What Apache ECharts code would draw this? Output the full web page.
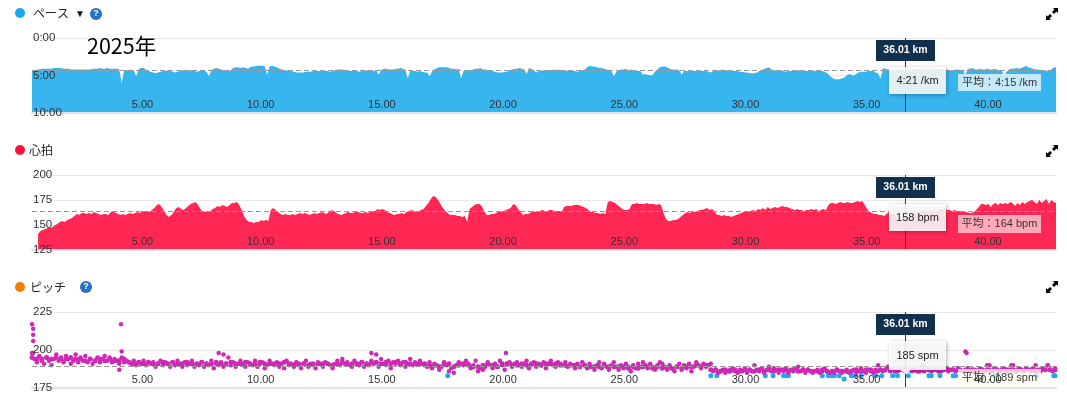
<!DOCTYPE html>
<html>
<head>
<meta charset="utf-8">
<title>ペース 心拍 ピッチ</title>
<style>
  html, body { margin: 0; padding: 0; background: #fff; }
  #chart { width: 1067px; height: 396px; }
</style>
<script src="https://cdn.jsdelivr.net/npm/echarts@6/dist/echarts.min.js"></script>
</head>
<body>
<div id="chart"></div>
<script>
const xTicks = [5, 10, 15, 20, 25, 30, 35, 40]
const maxKm = 42.24
const cursorKm = 36.01

// pace in minutes per km, one value every 0.1 km
const paceStepKm = 0.1
const pace = [
  4.3, 4.3, 4.2, 4.2, 4.1, 4.1, 4.1, 4.1, 4.1, 4.0,
  4.0, 4.0, 4.0, 4.1, 4.1, 4.1, 4.2, 4.2, 4.2, 4.2,
  4.2, 4.2, 4.2, 4.2, 4.2, 4.1, 4.1, 4.1, 4.0, 4.1,
  4.1, 4.0, 4.1, 4.1, 4.1, 4.1, 4.2, 6.0, 4.3, 4.3,
  4.3, 4.2, 4.3, 5.1, 4.2, 4.0, 4.0, 4.2, 4.4, 4.5,
  4.6, 4.7, 4.6, 4.5, 4.4, 4.4, 4.3, 4.4, 4.5, 4.6,
  4.5, 4.4, 4.3, 4.3, 4.4, 4.3, 4.3, 4.4, 4.5, 4.4,
  4.3, 4.4, 4.5, 5.1, 4.3, 4.1, 4.0, 4.1, 4.2, 4.3,
  4.3, 4.4, 4.3, 4.0, 3.9, 3.9, 4.0, 3.9, 4.0, 4.1,
  3.9, 3.8, 3.8, 3.7, 3.7, 3.7, 3.8, 4.9, 3.8, 3.7,
  3.8, 3.9, 4.1, 4.2, 4.3, 4.3, 4.4, 4.4, 4.5, 4.6,
  4.6, 4.6, 4.6, 4.5, 4.5, 4.5, 4.4, 4.4, 4.4, 4.4,
  4.3, 4.4, 4.4, 4.5, 4.4, 4.3, 4.2, 4.2, 4.2, 4.3,
  4.3, 4.4, 4.4, 4.4, 4.4, 4.5, 4.4, 4.4, 4.3, 4.3,
  4.4, 4.4, 4.3, 4.9, 4.3, 4.1, 4.1, 4.2, 4.2, 4.2,
  4.1, 4.1, 4.0, 4.1, 4.2, 5.4, 4.4, 4.4, 4.4, 4.5,
  4.4, 4.5, 4.6, 4.6, 5.1, 4.5, 4.2, 4.0, 3.9, 3.9,
  3.9, 3.9, 4.0, 4.1, 4.1, 4.2, 4.1, 5.4, 4.4, 4.4,
  4.3, 4.3, 4.2, 4.1, 4.1, 4.0, 4.2, 4.2, 4.3, 4.4,
  4.4, 4.5, 4.6, 4.6, 4.6, 4.5, 4.5, 4.3, 4.2, 4.1,
  4.1, 4.0, 4.1, 4.2, 4.8, 4.0, 4.1, 4.3, 4.6, 4.4,
  4.4, 4.3, 4.3, 4.3, 4.3, 4.2, 4.3, 4.2, 4.3, 4.3,
  4.3, 4.4, 4.4, 4.4, 4.4, 4.5, 4.4, 4.3, 4.2, 3.9,
  3.7, 3.8, 3.8, 3.9, 4.0, 4.0, 4.1, 4.2, 4.3, 4.4,
  5.1, 4.5, 4.3, 4.2, 4.2, 4.1, 4.3, 4.2, 4.3, 4.4,
  4.4, 4.4, 4.9, 4.8, 4.9, 5.0, 4.9, 4.5, 4.2, 3.9,
  3.8, 3.8, 3.9, 4.1, 4.2, 4.2, 4.2, 4.3, 4.9, 4.4,
  4.4, 4.4, 4.4, 4.4, 4.4, 4.4, 4.4, 4.4, 4.4, 4.5,
  4.6, 4.4, 4.4, 4.3, 4.3, 4.2, 4.3, 4.3, 4.3, 4.4,
  4.4, 4.4, 4.5, 4.5, 4.6, 4.6, 4.7, 4.7, 4.7, 4.6,
  4.4, 4.3, 4.1, 4.0, 3.9, 4.2, 4.3, 4.3, 4.4, 4.3,
  4.4, 4.5, 4.4, 4.4, 4.3, 4.4, 4.3, 4.3, 4.4, 4.4,
  4.4, 4.3, 4.3, 4.4, 4.3, 4.4, 4.4, 4.5, 4.7, 5.0,
  5.3, 5.5, 5.5, 5.5, 5.4, 5.3, 5.0, 4.8, 4.9, 5.0,
  4.8, 4.6, 4.5, 4.5, 4.5, 4.4, 4.4, 4.4, 4.6, 4.7,
  5.4, 4.0, 4.1, 4.2, 4.3, 4.3, 4.2, 4.3, 4.2, 4.3,
  4.3, 4.3, 4.2, 4.2, 4.1, 4.2, 4.2, 4.3, 4.3, 4.2,
  4.2, 4.3, 4.2, 4.1, 4.2, 4.2, 4.2, 4.2, 4.3, 4.3,
  4.3, 4.2, 4.2, 4.3, 4.3, 4.9, 4.1, 4.1, 4.0, 4.2,
  4.2, 4.1, 4.2, 4.2, 4.1, 4.2, 4.2, 4.1, 4.2, 4.3,
  4.3, 5.1, 4.5, 4.2, 4.1, 4.1, 4.0, 4.1, 4.0, 3.9,
  3.7, 3.9, 4.0, 4.1, 4.2, 4.2, 4.3, 4.3, 4.3, 4.4,
  4.4, 4.0, 3.9, 4.0
]
const paceAvg = 4.25

// heart rate in bpm, one value every 0.1 km from 0.25 km
const heartStartKm = 0.25
const heartStepKm = 0.1
const heart = [
  141, 144, 145, 146, 147, 147, 148, 150, 151, 153,
  154, 153, 155, 156, 157, 159, 161, 160, 162, 162,
  161, 162, 161, 163, 162, 161, 160, 161, 161, 160,
  163, 164, 162, 161, 160, 161, 160, 161, 162, 161,
  162, 163, 162, 164, 163, 164, 163, 165, 167, 170,
  171, 168, 164, 160, 158, 160, 163, 167, 168, 166,
  165, 167, 169, 171, 172, 173, 170, 166, 163, 163,
  164, 164, 166, 167, 169, 168, 170, 169, 168, 170,
  172, 172, 173, 170, 165, 159, 155, 153, 153, 152,
  153, 153, 155, 154, 155, 154, 165, 167, 165, 163,
  161, 160, 161, 160, 160, 161, 160, 161, 162, 161,
  162, 161, 160, 161, 162, 161, 162, 163, 162, 161,
  163, 165, 164, 162, 161, 160, 161, 162, 163, 162,
  162, 164, 163, 162, 162, 163, 162, 163, 163, 164,
  166, 165, 166, 165, 163, 162, 161, 160, 161, 161,
  162, 161, 163, 164, 165, 164, 163, 164, 165, 166,
  169, 172, 176, 179, 178, 175, 171, 167, 164, 162,
  160, 160, 160, 159, 159, 158, 159, 153, 166, 168,
  170, 171, 171, 169, 164, 160, 160, 161, 161, 162,
  164, 163, 164, 165, 166, 167, 171, 170, 166, 163,
  160, 161, 161, 162, 164, 163, 164, 164, 165, 164,
  164, 165, 165, 164, 164, 164, 163, 168, 169, 169,
  169, 170, 170, 170, 169, 168, 167, 165, 163, 163,
  162, 162, 161, 162, 161, 173, 174, 173, 172, 170,
  168, 166, 165, 165, 166, 171, 171, 172, 171, 171,
  171, 172, 171, 171, 171, 170, 171, 170, 162, 156,
  154, 154, 155, 155, 156, 158, 160, 162, 163, 162,
  164, 163, 164, 165, 165, 166, 167, 165, 166, 164,
  160, 160, 159, 160, 159, 159, 158, 159, 160, 161,
  162, 163, 164, 163, 164, 165, 164, 166, 165, 167,
  165, 168, 166, 167, 168, 167, 168, 169, 168, 168,
  167, 166, 165, 166, 165, 165, 164, 165, 165, 166,
  165, 166, 164, 165, 166, 165, 170, 172, 172, 171,
  172, 173, 172, 172, 173, 172, 172, 173, 174, 173,
  174, 170, 166, 163, 162, 161, 161, 160, 160, 159,
  161, 163, 162, 162, 158, 158, 158, 158, 158, 158,
  160, 161, 162, 163, 163, 165, 163, 164, 164, 165,
  164, 165, 166, 165, 166, 165, 165, 164, 165, 164,
  164, 163, 163, 163, 162, 162, 163, 165, 168, 171,
  171, 170, 171, 168, 171, 172, 170, 172, 171, 172,
  171, 173, 172, 169, 172, 170, 173, 171, 173, 174,
  175, 173, 171, 175, 172, 174, 176, 171, 175, 173,
  172
]
const heartAvg = 164

// cadence in spm, one value every 0.1 km: the scattered readings
const cadenceStepKm = 0.1
const cadence = [
  198, 194, 192, 196, 193, 191, 195, 193, 190, 194,
  197, 193, 195, 192, 196, 194, 191, 193, 197, 192,
  195, 193, 196, 192, 194, 191, 193, 195, 192, 194,
  196, 193, 195, 192, 194, 193, 191, 195, 192, 193,
  192, 191, 193, 190, 192, 191, 193, 190, 192, 191,
  192, 189, 191, 193, 190, 192, 191, 189, 192, 190,
  193, 191, 189, 192, 190, 191, 193, 189, 191, 190,
  192, 189, 191, 190, 193, 188, 191, 190, 192, 189,
  191, 195, 190, 192, 189, 191, 193, 190, 189, 192,
  191, 190, 193, 189, 191, 192, 188, 190, 193, 191,
  190, 192, 189, 191, 188, 193, 190, 191, 189, 192,
  190, 188, 191, 193, 189, 191, 190, 188, 192, 191,
  189, 192, 191, 190, 188, 191, 193, 190, 194, 191,
  192, 190, 189, 193, 191, 190, 192, 189, 191, 190,
  193, 191, 192, 189, 194, 191, 190, 193, 188, 192,
  191, 193, 190, 192, 189, 191, 194, 190, 192, 191,
  193, 191, 190, 189, 192, 188, 191, 190, 187, 189,
  192, 190, 186, 188, 185, 190, 192, 191, 190, 193,
  191, 188, 190, 193, 186, 188, 187, 189, 192, 190,
  188, 191, 189, 193, 190, 187, 191, 192, 189, 191,
  192, 190, 189, 191, 193, 188, 190, 192, 189, 191,
  190, 192, 188, 191, 193, 190, 189, 192, 191, 190,
  192, 189, 191, 190, 188, 191, 189, 192, 190, 188,
  191, 189, 187, 190, 192, 188, 191, 189, 187, 190,
  192, 189, 187, 190, 188, 191, 189, 186, 190, 188,
  191, 189, 192, 190, 188, 191, 189, 187, 190, 192,
  191, 189, 187, 190, 188, 186, 189, 191, 187, 190,
  188, 191, 186, 189, 192, 190, 188, 191, 189, 190,
  191, 186, 187, 185, 186, 187, 185, 186, 187, 188,
  186, 185, 187, 186, 188, 185, 187, 186, 190, 187,
  186, 188, 185, 187, 189, 186, 188, 187, 185, 187,
  186, 188, 185, 187, 186, 188, 189, 186, 187, 185,
  187, 186, 185, 186, 187, 185, 186, 188, 186, 185,
  186, 185, 187, 186, 185, 186, 187, 185, 186, 187,
  185, 186, 188, 186, 185, 187, 186, 185, 187, 186,
  187, 186, 187, 189, 186, 188, 187, 186, 188, 187,
  186, 187, 188, 186, 187, 186, 188, 187, 186, 188,
  187, 186, 187, 188, 187, 186, 187, 188, 186, 187,
  187, 186, 188, 187, 186, 187, 188, 187, 186, 187,
  186, 188, 187, 186, 190, 187, 186, 188, 187, 186,
  187, 188, 186, 187, 190, 187, 186, 188, 187, 186,
  188, 187, 186, 188, 190, 187, 186, 188, 187, 190,
  187, 186, 188
]

// cadence, one value every 0.2 km: the solid middle of the band
const cadenceCoreStepKm = 0.2
const cadenceCore = [
  195, 194, 194, 195, 194, 195, 194, 194, 195, 194,
  194, 193, 194, 193, 194, 193, 194, 193, 193, 194,
  192, 191, 192, 191, 192, 191, 191, 192, 191, 192,
  191, 191, 192, 191, 191, 192, 191, 191, 192, 191,
  191, 192, 191, 191, 192, 191, 191, 192, 191, 191,
  191, 191, 192, 191, 190, 191, 191, 190, 191, 191,
  191, 191, 190, 191, 192, 191, 191, 191, 192, 191,
  192, 192, 191, 192, 191, 192, 191, 192, 191, 191,
  191, 191, 190, 190, 189, 191, 191, 189, 190, 191,
  190, 189, 189, 190, 191, 190, 189, 191, 191, 190,
  190, 191, 190, 191, 191, 190, 191, 191, 191, 190,
  190, 190, 190, 189, 190, 189, 189, 189, 190, 189,
  189, 189, 189, 188, 189, 188, 189, 189, 188, 189,
  188, 188, 188, 189, 188, 189, 189, 190, 189, 190,
  187, 187, 186, 187, 186, 187, 186, 187, 187, 186,
  187, 186, 187, 186, 187, 187, 186, 187, 186, 187,
  187, 186, 186, 187, 186, 186, 187, 186, 186, 186,
  187, 186, 187, 187, 186, 187, 187, 187, 186, 187,
  187, 187, 187, 186, 187, 187, 187, 186, 187, 187,
  187, 187, 186, 187, 187, 186, 187, 187, 186, 187,
  187, 187, 187, 186, 187, 187, 187, 186, 187, 187,
  187, 187
]
const cadenceAvg = 189

// stray readings away from the main band
const strayKm = [0, 0.05, 0.05, 0.05, 0.05, 3.6, 3.67, 3.7, 7.7, 7.9, 14.0, 14.2, 19.55, 34.9, 36.75, 38.5, 38.55, 39.5, 40.47, 41.9]
const straySpm = [217, 214, 210, 206, 198, 187, 217, 199, 198, 197, 198, 197, 198, 190, 190, 199, 198, 190, 190, 190]

// readings in the lower cadence band, drawn blue
const lowKm = [17.15, 28.0, 28.25, 30.25, 30.57, 31.0, 31.1, 31.2, 32.6, 32.85, 33.0, 33.1, 33.3, 33.5, 33.8, 33.95, 34.2, 34.8, 35.05, 35.5, 35.7, 36.15, 37.0, 37.1, 37.45, 38.0, 38.1, 39.7, 41.45, 42.15, 42.2]
const lowSpm = [183, 183, 183, 183, 183, 183, 183, 183, 183, 183, 183, 183, 183, 181, 183, 183, 183, 183, 183, 183, 183, 183, 183, 183, 183, 183, 183, 183, 183, 183, 183]

const font = '"Liberation Sans", "Noto Sans CJK JP", sans-serif'
const gridTops = [38, 175, 312]
const gridHeights = [75, 75, 76]
const yScales = [
  { min: 0, max: 10, interval: 5, inverse: true },
  { min: 125, max: 200, interval: 25 },
  { min: 175, max: 225, interval: 25 }
]
const yFormats = [(v) => v + ':00', (v) => String(v), (v) => String(v)]

const byStep = (values, step, start = 0) => values.map((v, i) => [start + i * step, v])
const byPair = (xs, ys) => xs.map((x, i) => [x, ys[i]])

const marks = (avg) => ({
  silent: true,
  symbol: 'none',
  animation: false,
  label: { show: false },
  data: [
    { yAxis: avg, lineStyle: { color: '#999', type: [5, 3], width: 1 } },
    { xAxis: cursorKm, lineStyle: { color: '#2b3a44', type: 'solid', width: 1 } }
  ]
})

const label = (x, y, text, extra = {}) => ({
  type: 'text', z: 100, x, y,
  style: { text, font: `12px ${font}`, fill: '#222', verticalAlign: 'middle', ...extra }
})
const dot = (cx, cy, r, fill) => ({ type: 'circle', z: 100, shape: { cx, cy, r }, style: { fill } })
const help = (cx, cy) => [
  dot(cx, cy, 6, '#2272c8'),
  label(cx, cy, '?', { font: `bold 9px ${font}`, fill: '#fff', align: 'center' })
]
// the two arrow heads of the fullscreen button
const expand = (x, y) => [
  { type: 'polygon', z: 100, x, y, shape: { points: [[1, -6], [6, -6], [6, -1], [4.5, -2.5], [2, 0], [0, -2], [2.5, -4.5]] }, style: { fill: '#000' } },
  { type: 'polygon', z: 100, x, y, shape: { points: [[-1, 6], [-6, 6], [-6, 1], [-4.5, 2.5], [-2, 0], [0, 2], [-2.5, 4.5]] }, style: { fill: '#000' } }
]
const cursorBoxes = (top, tipTop, tipHeight, text) => [
  { type: 'rect', z: 101, shape: { x: 876, y: top, width: 59, height: 21 }, style: { fill: '#11304d' } },
  { ...label(905.5, top + 10.5, '36.01 km', { font: `bold 10.5px ${font}`, fill: '#fff', align: 'center' }), z: 102 },
  { type: 'rect', z: 101, shape: { x: 889, y: tipTop, width: 57, height: tipHeight },
    style: { fill: 'rgba(255,255,255,0.88)', shadowBlur: 4, shadowColor: 'rgba(0,0,0,0.35)', shadowOffsetX: 1, shadowOffsetY: 1 } },
  { ...label(917.5, tipTop + tipHeight / 2, text, { font: `11px ${font}`, align: 'center' }), z: 102 }
]
const avgBox = (y, height, fill, text) => [
  { type: 'rect', z: 100, shape: { x: 958, y, width: 83, height }, style: { fill } },
  { ...label(999.5, y + height / 2, text, { font: `11px ${font}`, fill: '#333', align: 'center' }), z: 101 }
]

const myChart = echarts.init(document.getElementById('chart'), null, { renderer: 'canvas' })
myChart.setOption({
  animation: false,
  textStyle: { fontFamily: font },
  grid: gridTops.map((top, i) => ({ left: 32, right: 11, top, height: gridHeights[i], outerBoundsMode: 'none' })),
  xAxis: gridTops.map((top, i) => ({
    type: 'value', gridIndex: i, min: 0, max: maxKm, z: 103,
    splitLine: { show: false },
    axisTick: { show: false },
    axisLine: { show: true, onZero: false, lineStyle: { color: '#dfe3e6', width: 2 } },
    axisLabel: {
      inside: true, margin: 3, customValues: xTicks, align: 'right', verticalAlign: 'bottom',
      color: '#333', fontSize: 11, formatter: (v) => v.toFixed(2)
    }
  })),
  yAxis: [
    // first three carry the grid lines behind the areas, the last three the labels above them
    ...yScales.map((scale, i) => ({
      type: 'value', gridIndex: i, position: 'left', ...scale,
      axisLine: { show: false },
      axisTick: { show: false },
      axisLabel: { show: false },
      splitLine: { lineStyle: { color: '#e8e8e8' } }
    })),
    ...yScales.map((scale, i) => ({
      type: 'value', gridIndex: i, position: 'left', z: 104, ...scale,
      axisLine: { show: false },
      axisTick: { show: false },
      splitLine: { show: false },
      axisLabel: {
        inside: true, margin: 1, align: 'left', color: '#333', fontSize: 11.5,
        padding: [0, 0, 2, 0], formatter: yFormats[i]
      }
    }))
  ],
  series: [
    {
      type: 'line', xAxisIndex: 0, yAxisIndex: 0, data: byStep(pace, paceStepKm),
      showSymbol: false, silent: true, lineStyle: { width: 0 },
      areaStyle: { color: '#36b5ef', opacity: 1, origin: 'end' },
      markLine: marks(paceAvg)
    },
    {
      type: 'line', xAxisIndex: 1, yAxisIndex: 1, data: byStep(heart, heartStepKm, heartStartKm),
      showSymbol: false, silent: true, lineStyle: { width: 0 },
      areaStyle: { color: '#ff2855', opacity: 1, origin: 'start' },
      markLine: marks(heartAvg)
    },
    {
      type: 'scatter', xAxisIndex: 2, yAxisIndex: 2, data: byPair(lowKm, lowSpm),
      symbolSize: 5, itemStyle: { color: '#1eaaf0', opacity: 1 }, silent: true
    },
    {
      type: 'scatter', xAxisIndex: 2, yAxisIndex: 2, data: byStep(cadence, cadenceStepKm),
      symbolSize: 4.5, itemStyle: { color: '#d027b7', opacity: 1 }, silent: true,
      markLine: marks(cadenceAvg)
    },
    {
      type: 'scatter', xAxisIndex: 2, yAxisIndex: 2, data: byStep(cadenceCore, cadenceCoreStepKm),
      symbolSize: 5, itemStyle: { color: '#d027b7', opacity: 1 }, silent: true
    },
    {
      type: 'scatter', xAxisIndex: 2, yAxisIndex: 2, data: byPair(strayKm, straySpm),
      symbolSize: 4.5, itemStyle: { color: '#d027b7', opacity: 1 }, silent: true
    }
  ],
  graphic: { elements: [
    dot(20, 13, 5, '#1ba8f0'),
    label(33, 14.5, 'ペース'),
    label(75, 14, '▼', { font: `10px ${font}`, fill: '#111' }),
    ...help(96, 14),
    label(87, 46, '2025年', { font: `21.5px "Noto Sans CJK JP", sans-serif`, fill: '#000' }),
    ...expand(1052, 14),

    dot(20, 150, 5, '#ff0f3f'),
    label(29, 151.5, '心拍'),
    ...expand(1052, 151),

    dot(20, 287, 5, '#f08000'),
    label(30, 288.5, 'ピッチ'),
    ...help(86, 287),
    ...expand(1052, 287),

    ...avgBox(74, 17, 'rgba(255,255,255,0.7)', '平均：4:15 /km'),
    ...avgBox(215, 18, 'rgba(255,255,255,0.6)', '平均：164 bpm'),
    ...avgBox(369, 18, 'rgba(255,255,240,0.72)', '平均：189 spm'),

    ...cursorBoxes(40, 67, 27, '4:21 /km'),
    ...cursorBoxes(177, 204, 27, '158 bpm'),
    ...cursorBoxes(314, 341, 29, '185 spm'),
    { type: 'polygon', z: 101, shape: { points: [[900, 370], [911, 370], [905.5, 374]] }, style: { fill: 'rgba(255,255,255,0.88)' } }
  ] }
})
</script>
</body>
</html>
